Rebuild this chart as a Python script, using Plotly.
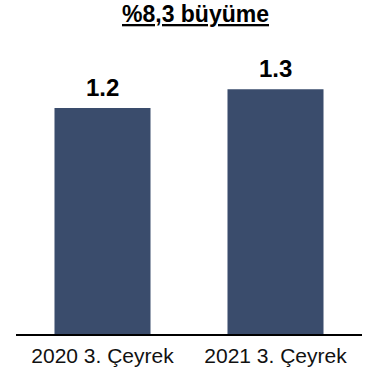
import plotly.graph_objects as go

categories = ["2020 3. Çeyrek", "2021 3. Çeyrek"]
values = [1.2, 1.3]
value_labels = ["1.2", "1.3"]
title_text = "%8,3 büyüme"

bar_color = "#3A4C6C"
font_family = "Liberation Sans, Arial, sans-serif"

fig = go.Figure()
fig.add_trace(go.Bar(
    x=categories, y=values, marker=dict(color=bar_color, line=dict(width=0)),
    hoverinfo="skip",
))

for c, v, t in zip(categories, values, value_labels):
    fig.add_annotation(x=c, y=v, text="<b>%s</b>" % t, showarrow=False,
                       yanchor="bottom", yshift=5,
                       font=dict(family=font_family, size=24, color="#000000"))

fig.add_annotation(xref="paper", yref="paper", x=0.518, y=1.0, yshift=61,
                   text="<b><u>%s</u></b>" % title_text, showarrow=False,
                   yanchor="top",
                   font=dict(family=font_family, size=23, color="#000000"))

fig.update_layout(
    width=374, height=371,
    margin=dict(l=16, r=12, t=60, b=37, autoexpand=False),
    paper_bgcolor="white", plot_bgcolor="white",
    showlegend=False, bargap=0.445,
    xaxis=dict(showline=True, linecolor="#000000", linewidth=2,
               ticks="", showgrid=False, ticklabelstandoff=2, automargin=False,
               tickfont=dict(family=font_family, size=21, color="#111111")),
    yaxis=dict(range=[0, 1.455], visible=False, showgrid=False, zeroline=False,
               automargin=False),
)

fig.write_html("out.html")
